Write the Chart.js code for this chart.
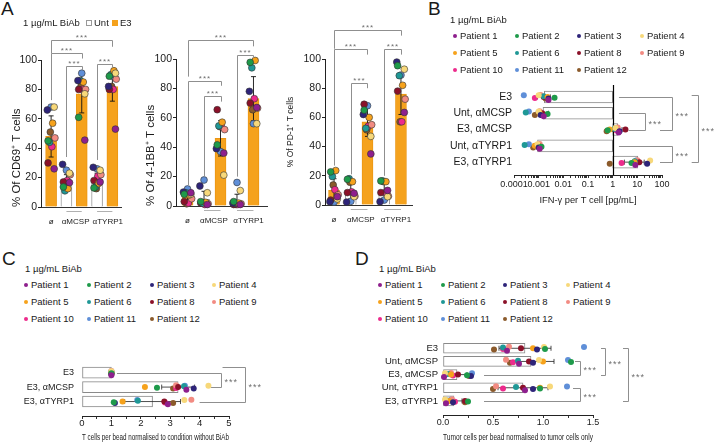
<!DOCTYPE html>
<html>
<head>
<meta charset="utf-8">
<title>BiAb activation panels</title>
<script src="https://cdn.jsdelivr.net/npm/chart.js@4.4.1/dist/chart.umd.min.js"></script>
<style>
  body { margin: 0; background: #fff; }
  #page { position: relative; width: 716px; height: 443px; overflow: hidden; font-family: "Liberation Sans", Arial, sans-serif; color: #1a1a1a; }
  #page canvas { position: absolute; }
  .txt { position: absolute; white-space: nowrap; line-height: 12px; font-size: 9.5px; }
  .letter { position: absolute; font-size: 19px; line-height: 20px; }
  .dot { position: absolute; width: 4px; height: 4px; border-radius: 50%; }
  .box { position: absolute; width: 6px; height: 6px; box-sizing: border-box; }
</style>
</head>
<body>
<div id="page">
  <div class="letter" style="left:1px;top:-1px">A</div>
  <div class="letter" style="left:428px;top:-1px">B</div>
  <div class="letter" style="left:2px;top:249px">C</div>
  <div class="letter" style="left:355px;top:249px">D</div>
  <canvas id="cd69Chart"></canvas>
  <canvas id="bbChart"></canvas>
  <canvas id="pd1Chart"></canvas>
  <canvas id="ifnChart"></canvas>
  <canvas id="tcellChart"></canvas>
  <canvas id="tumorChart"></canvas>
</div>
<script>
const patients = ['Patient 1', 'Patient 2', 'Patient 3', 'Patient 4', 'Patient 5', 'Patient 6',
  'Patient 8', 'Patient 9', 'Patient 10', 'Patient 11', 'Patient 12'];
const patientColors = ['#8e1f8d', '#1e9a4a', '#2e2479', '#f7d87a', '#f6a21c', '#1f9896',
  '#8b1129', '#f28b82', '#ec2b8c', '#5f8fd8', '#8b5a2b'];

// Panel A: five bars (ø E3, Unt αMCSP, E3 αMCSP, Unt αTYRP1, E3 αTYRP1)
const aGroupLabels = ['ø', 'αMCSP', 'αTYRP1'];
const aBarTreat = ['E3', 'Unt', 'E3', 'Unt', 'E3'];

const cd69Mean = [48, 17, 77, 18, 82];
const cd69Sd = [14, 5, 13, 5, 10];
const cd69Phi = [26, 45, 66, 68, 57, 44, 30, 47, 41, 68, 51];
const cd69UntMcsp = [16.6, 13.6, 29, 23, 12.5, 11, 17, 22, 18, 25, 13];
const cd69E3Mcsp = [45.5, 61, 86, 77, 85, 86, 80, 80, 80, 91, 82];
const cd69UntTyrp = [17, 13, 27, 25, 16, 13.6, 18, 22, 21, 26, 12.5];
const cd69E3Tyrp = [53, 89, 82, 91, 92.7, 90, 80, 87, 80, 89, 82];

const bbMean = [6, 4.5, 46, 3, 73];
const bbSd = [3.5, 5.5, 12, 5, 15];
const bbPhi = [9, 8, 9.5, 8, 7.5, 9, 3, 5, 2, 11.6, 1.5];
const bbUntMcsp = [1, 3, 13.6, 9, 2.5, 2, 2, 1.5, 1, 17.7, 2];
const bbE3Mcsp = [36, 41.6, 39, 21, 57, 54.5, 65.5, 52, 54, 37, 54];
const bbUntTyrp = [1, 3, 2, 10.5, 2, 2, 1, 1.5, 1, 16, 1];
const bbE3Tyrp = [67, 97.7, 78, 56, 99, 94, 70, 66.6, 73, 56, 65.5];

const pd1Mean = [10, 10, 57, 10, 76];
const pd1Sd = [8, 6, 10, 6, 14];
const pd1Phi = [5.7, 22.7, 2.3, 4.1, 23.6, 19.5, 3.4, 7, 10.5, 2, 13.7];
const pd1UntMcsp = [8, 17.6, 2, 5.7, 16, 18, 8.5, 6, 9, 2.5, 15.6];
const pd1E3Mcsp = [35, 65, 62, 47, 60, 52.5, 69, 55, 54, 68, 51.5];
const pd1UntTyrp = [10, 16.5, 2.3, 5.7, 16, 16.5, 8.5, 6, 8.5, 3.4, 16];
const pd1E3Tyrp = [63.4, 95.4, 97.9, 93, 82, 88.6, 78, 72.5, 57, 89, 57];

// Panel B: IFN-γ per T cell (log axis, bars grow from 1)
const ifnRows = ['E3', 'Unt, αMCSP', 'E3, αMCSP', 'Unt, αTYRP1', 'E3, αTYRP1'];
const ifnMean = [0.0017, 0.0015, 1.6, 0.0009, 10.5];
const ifnErrLo = [0.0009, 0.0008, 1.0, 0.0006, 3];
const ifnErrHi = [0.003, 0.0025, 2.4, 0.0013, 19];
const ifnE3 = [0.0025, 0.0044, 0.0025, 0.001, 0.0023, 0.0016, 0.0016, 0.0012, 0.0007, 0.00025, 0.0019];
const ifnUntMcsp = [0.0016, 0.0023, 0.0012, 0.001, 0.0011, 0.0003, 0.0014, 0.0011, 0.0012, 0.0004, 0.0007];
const ifnE3Mcsp = [1.75, 0.63, 1.9, 1.3, 0.76, 1.2, 3.3, 1.6, 1.45, 1.3, 0.57];
const ifnUntTyrp = [0.0011, 0.0013, 0.001, 0.0009, 0.0007, 0.00027, 0.001, 0.0011, 0.001, 0.0004, 0.0006];
const ifnE3Tyrp = [8.3, 5.8, 25, 33, 7.6, 7.8, 12, 10, 2.3, 9, 0.76];
const ifnTickLabels = [0.0001, 0.001, 0.01, 0.1, 1, 10, 100];

// Panel C: T cells per bead
const tcellRows = ['E3', 'E3, αMCSP', 'E3, αTYRP1'];
const tcellMean = [1.0, 3.27, 2.4];
const tcellSd = [0, 0.56, 0.95];
const tcellE3 = [1, 1, 1, 1, 1, 1, 1, 1, 1, 1, 1];
const tcellE3Mcsp = [3.55, 2.55, 3.8, 4.3, 2.14, 3.47, 3.27, 3.2, 3.2, 3.5, 3.1];
const tcellE3Tyrp = [2.92, 1.08, 1.12, 3.48, 1.38, 1.9, 2.8, 3.72, 2.82, 1.88, 3.1];

// Panel D: tumor cells per bead
const tumorRows = ['E3', 'Unt, αMCSP', 'E3, αMCSP', 'Unt, αTYRP1', 'E3, αTYRP1'];
const tumorMean = [0.82, 0.88, 0.14, 0.8, 0.11];
const tumorSd = [0.26, 0.23, 0.1, 0.25, 0.08];
const tumorE3 = [0.64, 1.02, 0.94, 1.01, 0.9, 0.6, 0.78, 0.66, 0.6, 1.41, 0.51];
const tumorUntMcsp = [0.76, 1.28, 0.9, 0.96, 1.0, 0.75, 0.86, 0.63, 0.7, 1.25, 0.67];
const tumorE3Mcsp = [0.01, 0.24, 0.28, 0.02, 0.08, 0.05, 0.15, 0.08, 0.1, 0.29, 0.26];
const tumorUntTyrp = [0.82, 0.97, 0.9, 1.07, 0.97, 0.73, 0.8, 0.53, 0.6, 1.24, 0.5];
const tumorE3Tyrp = [0.03, 0.25, 0.1, 0.02, 0.06, 0.03, 0.22, 0.09, 0.12, 0.08, 0.22];

// ---- styling ----
const FONT = '"Liberation Sans", Arial, sans-serif';
const e3Orange = '#f5a21d';
const bracketGray = '#8f8f8f';
const jitA = [0.2, -0.2, -0.25, 0.2, 0.1, -0.1, -0.2, 0.25, 0.05, 0.0, -0.05];
const jitR = [0.18, 0.05, 0.1, -0.1, 0.0, -0.05, 0.0, -0.12, 0.06, -0.1, 0.1];

Chart.defaults.font.family = FONT;
Chart.defaults.color = '#1a1a1a';
Chart.defaults.animation = false;
Chart.defaults.plugins.legend.display = false;
Chart.defaults.plugins.tooltip.enabled = false;

function setBox(canvas, box) {
  const [l, t, w, h] = box;
  canvas.width = w; canvas.height = h;
  canvas.style.left = l + 'px'; canvas.style.top = t + 'px';
  canvas.style.width = w + 'px'; canvas.style.height = h + 'px';
}

function stars(ctx, px, py, align, size) {
  ctx.font = size + 'px ' + FONT;
  ctx.fillStyle = '#6f6f6f';
  ctx.textAlign = align;
  ctx.textBaseline = 'alphabetic';
  ctx.letterSpacing = '1px';
  ctx.fillText('***', px, py + 0.55 * size);
  ctx.letterSpacing = '0px';
}

// vertical bar charts of panel A
function columnChart(id, box, area, xRange, means, sds, barPoints, yTitle, titleSize, titleAlign, brackets) {
  const cv = document.getElementById(id);
  setBox(cv, box);
  const [L, T, W, H] = box;

  const datasets = [{
    type: 'bar',
    data: means.map((v, i) => ({ x: i, y: v })),
    backgroundColor: aBarTreat.map(t => t === 'E3' ? e3Orange : '#ffffff'),
    borderColor: aBarTreat.map(t => t === 'E3' ? '#eb9614' : '#9a9a9a'),
    borderWidth: 1,
    barThickness: 11,
    order: 1
  }];
  patients.forEach((p, k) => {
    datasets.push({
      type: 'scatter',
      label: p,
      data: barPoints.map((vals, i) => ({ x: i + jitA[k], y: vals[k] })),
      backgroundColor: patientColors[k],
      borderColor: '#333',
      borderWidth: 0.6,
      pointRadius: 3.4,
      clip: false,
      order: 0
    });
  });

  const extras = {
    id: 'extras' + id,
    afterDatasetDraw(chart, args) {
      if (args.index !== 0) return;
      const { ctx, scales: { x, y } } = chart;
      ctx.save();
      ctx.strokeStyle = '#111';
      ctx.lineWidth = 0.9;
      means.forEach((m, i) => {
        const px = x.getPixelForValue(i);
        const y1 = y.getPixelForValue(Math.max(0, m - sds[i]));
        const y2 = y.getPixelForValue(m + sds[i]);
        ctx.beginPath();
        ctx.moveTo(px, y1); ctx.lineTo(px, y2);
        ctx.moveTo(px - 2.5, y1); ctx.lineTo(px + 2.5, y1);
        ctx.moveTo(px - 2.5, y2); ctx.lineTo(px + 2.5, y2);
        ctx.stroke();
      });
      ctx.restore();
    },
    afterDraw(chart) {
      const { ctx, scales: { x, y }, chartArea } = chart;
      ctx.save();
      ctx.strokeStyle = bracketGray;
      ctx.lineWidth = 1;
      brackets.forEach(b => {
        const x1 = Math.round(x.getPixelForValue(b.from)) + 0.5;
        const x2 = Math.round(x.getPixelForValue(b.to)) + 0.5;
        const yy = Math.round(y.getPixelForValue(b.y)) + 0.5;
        ctx.beginPath();
        ctx.moveTo(x1, y.getPixelForValue(b.l));
        ctx.lineTo(x1, yy); ctx.lineTo(x2, yy);
        ctx.lineTo(x2, y.getPixelForValue(b.r));
        ctx.stroke();
        stars(ctx, (x1 + x2) / 2, yy - 5, 'center', 8);
      });
      // grey pair lines above the target labels
      ctx.strokeStyle = '#b0b0b0';
      const ly = Math.round(chartArea.bottom + 4) + 0.5;
      [[1, 2], [3, 4]].forEach(([a, b]) => {
        ctx.beginPath();
        ctx.moveTo(x.getPixelForValue(a), ly);
        ctx.lineTo(x.getPixelForValue(b), ly);
        ctx.stroke();
      });
      ctx.restore();
    }
  };

  return new Chart(cv, {
    type: 'bar',
    data: { datasets },
    options: {
      responsive: false,
      devicePixelRatio: 1,
      layout: { padding: { top: area[1] - T, right: L + W - area[2], left: 0, bottom: 0 } },
      scales: {
        x: {
          type: 'linear',
          min: xRange[0], max: xRange[1],
          offset: false,
          afterFit: s => { s.height = T + H - area[3]; },
          afterBuildTicks: s => { s.ticks = [0, 1.6, 3.7].map(v => ({ value: v })); },
          ticks: { callback: (v, i) => aGroupLabels[i], font: { size: 8 }, padding: 10, maxRotation: 0, autoSkip: false },
          grid: { display: false, drawTicks: false, offset: false },
          border: { color: '#333', width: 1 }
        },
        y: {
          min: 0, max: 100,
          ticks: { stepSize: 20, font: { size: 10.5 }, padding: 1 },
          grid: { drawOnChartArea: false, tickLength: 3, color: '#222' },
          border: { color: '#222', width: 1 },
          title: { display: true, text: yTitle, font: { size: titleSize }, align: titleAlign, padding: { top: 9.6, bottom: 0 } },
          afterFit: s => { s.width = area[0] - L; }
        }
      }
    },
    plugins: [extras]
  });
}

// horizontal bar charts of panels B, C, D
function rowChart(id, cfg) {
  const cv = document.getElementById(id);
  setBox(cv, cfg.box);
  const [L, T, W, H] = cfg.box;
  const area = cfg.area;

  const datasets = [{
    type: 'bar',
    indexAxis: 'y',
    data: cfg.means.map((v, i) => ({ x: cfg.floatFrom !== undefined ? [cfg.floatFrom, v] : v, y: i })),
    backgroundColor: '#ffffff',
    borderColor: '#8a8a8a',
    borderWidth: 1,
    borderSkipped: false,
    barThickness: cfg.barThickness,
    order: 1
  }];
  patients.forEach((p, k) => {
    datasets.push({
      type: 'scatter',
      label: p,
      data: cfg.points.map((vals, i) => ({ x: vals[k], y: i + jitR[k] })),
      backgroundColor: patientColors[k],
      borderColor: patientColors[k],
      borderWidth: 0,
      pointRadius: 3,
      clip: false,
      order: 0
    });
  });

  const extras = {
    id: 'extras' + id,
    afterDatasetDraw(chart, args) {
      if (args.index !== 0) return;
      const { ctx, scales: { x, y }, chartArea } = chart;
      ctx.save();
      if (cfg.refLine !== undefined) {
        const rx = Math.round(x.getPixelForValue(cfg.refLine)) + 0.5;
        ctx.strokeStyle = '#000';
        ctx.lineWidth = 1.2;
        ctx.beginPath();
        ctx.moveTo(rx, chartArea.top - 3); ctx.lineTo(rx, chartArea.bottom);
        ctx.stroke();
      }
      ctx.strokeStyle = '#222';
      ctx.lineWidth = 0.8;
      cfg.errLo.forEach((lo, i) => {
        const hi = cfg.errHi[i];
        if (lo === hi) return;
        const py = y.getPixelForValue(i);
        const x1 = x.getPixelForValue(lo), x2 = x.getPixelForValue(hi);
        ctx.beginPath();
        ctx.moveTo(x1, py); ctx.lineTo(x2, py);
        ctx.moveTo(x1, py - 2.5); ctx.lineTo(x1, py + 2.5);
        ctx.moveTo(x2, py - 2.5); ctx.lineTo(x2, py + 2.5);
        ctx.stroke();
      });
      ctx.restore();
    },
    afterDraw(chart) {
      const { ctx, scales: { x, y } } = chart;
      ctx.save();
      ctx.strokeStyle = bracketGray;
      ctx.lineWidth = 1;
      cfg.brackets.forEach(b => {
        const xv = Math.round(x.getPixelForValue(b.x)) + 0.5;
        const y1 = Math.round(y.getPixelForValue(b.from + (b.dTop || 0))) + 0.5;
        const y2 = Math.round(y.getPixelForValue(b.to)) + 0.5;
        ctx.beginPath();
        ctx.moveTo(x.getPixelForValue(b.top), y1);
        ctx.lineTo(xv, y1); ctx.lineTo(xv, y2);
        ctx.lineTo(x.getPixelForValue(b.bot), y2);
        ctx.stroke();
        stars(ctx, xv + 3, (y1 + y2) / 2, 'left', cfg.starSize);
      });
      ctx.restore();
    }
  };

  return new Chart(cv, {
    type: 'bar',
    data: { datasets },
    options: {
      responsive: false,
      devicePixelRatio: 1,
      layout: { padding: { top: area[1] - T, right: L + W - area[2], left: 0, bottom: 0 } },
      scales: {
        x: Object.assign({
          offset: false,
          grid: { drawOnChartArea: false, tickLength: 3, color: '#333', offset: false },
          border: { color: '#222', width: 1 },
          title: { display: true, text: cfg.xTitle, font: { size: 9.3 }, padding: { top: 0, bottom: 0 } },
          afterFit: s => { s.height = T + H - area[3]; }
        }, cfg.xScale),
        y: {
          type: 'linear',
          reverse: true,
          min: cfg.yRange[0], max: cfg.yRange[1],
          offset: false,
          afterBuildTicks: s => { s.ticks = cfg.rows.map((r, i) => ({ value: i })); },
          ticks: { callback: (v, i) => cfg.rows[i], font: { size: cfg.rowFont }, padding: cfg.rowPad, autoSkip: false, color: '#1a1a1a' },
          grid: { display: false, drawTicks: false },
          border: { display: false },
          afterFit: s => { s.width = area[0] - L; }
        }
      }
    },
    plugins: [extras]
  });
}

// legends
function addText(text, x, yc, size) {
  const d = document.createElement('div');
  d.className = 'txt';
  d.textContent = text;
  d.style.left = x + 'px';
  d.style.top = (yc - 6) + 'px';
  if (size) d.style.fontSize = size + 'px';
  document.getElementById('page').appendChild(d);
}
function addShape(cls, x, yc, style) {
  const d = document.createElement('div');
  d.className = cls;
  Object.assign(d.style, style);
  d.style.left = x + 'px';
  d.style.top = yc + 'px';
  document.getElementById('page').appendChild(d);
}
function patientLegend(titleX, titleY, rowYs, colXs) {
  addText('1 µg/mL BiAb', titleX, titleY);
  patients.forEach((p, k) => {
    const r = Math.floor(k / 4), c = k % 4;
    addShape('dot', colXs[c] - 2, rowYs[r] - 2, { background: patientColors[k] });
    addText(p, colXs[c] + 5, rowYs[r]);
  });
}

window.addEventListener('DOMContentLoaded', () => {
  // panel A legend
  addText('1 µg/mL BiAb', 23, 23);
  addShape('box', 86, 20, { background: '#fff', border: '1px solid #999' });
  addText('Unt', 94, 23);
  addShape('box', 112, 20, { background: e3Orange });
  addText('E3', 120, 23);

  patientLegend(450, 20, [36, 53, 70], [455, 517, 579, 642]);
  patientLegend(25, 269, [285, 302, 319], [26, 89, 152, 214]);
  patientLegend(379, 269, [285, 302, 319], [380, 443, 505, 568]);

  columnChart('cd69Chart', [0, 16, 134, 210], [41, 60, 128, 207], [-0.66, 4.58],
    cd69Mean, cd69Sd, [cd69Phi, cd69UntMcsp, cd69E3Mcsp, cd69UntTyrp, cd69E3Tyrp],
    '% Of CD69⁺ T cells', 11.5, 'start',
    [{ from: 0, to: 4, y: 113.6, l: 104.5, r: 109 },
     { from: 0, to: 2, y: 104.5, l: 72.7, r: 101 },
     { from: 1, to: 2, y: 96, l: 34, r: 93 },
     { from: 3, to: 4, y: 97, l: 32, r: 95 }]);

  columnChart('bbChart', [134, 16, 142, 210], [176, 59, 267, 206], [-0.7, 4.82],
    bbMean, bbSd, [bbPhi, bbUntMcsp, bbE3Mcsp, bbUntTyrp, bbE3Tyrp],
    '% Of 4-1BB⁺ T cells', 11.5, 'start',
    [{ from: 0, to: 4, y: 113, l: 88, r: 108.6 },
     { from: 0, to: 2, y: 84.8, l: 14.3, r: 81.8 },
     { from: 1, to: 2, y: 74.5, l: 20, r: 71 },
     { from: 3, to: 4, y: 103, l: 20, r: 100.7 }]);

  columnChart('pd1Chart', [276, 16, 150, 210], [325, 59, 412, 205], [-0.54, 4.66],
    pd1Mean, pd1Sd, [pd1Phi, pd1UntMcsp, pd1E3Mcsp, pd1UntTyrp, pd1E3Tyrp],
    '% Of PD-1⁺ T cells', 8.5, 'center',
    [{ from: 0, to: 4, y: 119.7, l: 107, r: 116 },
     { from: 0, to: 2, y: 107, l: 27, r: 103 },
     { from: 1, to: 2, y: 83.5, l: 21, r: 80 },
     { from: 3, to: 4, y: 107, l: 20, r: 103 }]);

  rowChart('ifnChart', {
    box: [440, 78, 276, 128], area: [514, 88, 662, 175], yRange: [-0.55, 4.79],
    rows: ifnRows, rowFont: 10.5, rowPad: 2,
    means: ifnMean, floatFrom: 1, errLo: ifnErrLo, errHi: ifnErrHi,
    points: [ifnE3, ifnUntMcsp, ifnE3Mcsp, ifnUntTyrp, ifnE3Tyrp],
    barThickness: 12, refLine: 1, starSize: 9,
    xTitle: 'IFN-γ per T cell [pg/mL]',
    xScale: {
      type: 'logarithmic', min: 0.0001, max: 100,
      afterBuildTicks: s => {
        const t = [];
        ifnTickLabels.forEach((d, i) => {
          t.push({ value: d });
          if (i < ifnTickLabels.length - 1) for (let m = 2; m < 10; m++) t.push({ value: d * m });
        });
        s.ticks = t;
      },
      ticks: {
        autoSkip: false, maxRotation: 0, minRotation: 0, padding: 1, font: { size: 9 },
        callback: v => {
          const hit = ifnTickLabels.find(d => Math.abs(d - v) / d < 1e-6);
          return hit === undefined ? '' : String(hit);
        }
      }
    },
    brackets: [
      { from: 1, to: 2, x: 21, top: 1.8, bot: 4.4 },
      { from: 0, to: 2, x: 250, top: 1.8, bot: 83 },
      { from: 3, to: 4, x: 250, top: 1.8, bot: 83 },
      { from: 0, to: 4, x: 2750, top: 1600, bot: 1600, dTop: -0.12 }
    ]
  });

  rowChart('tcellChart', {
    box: [0, 352, 290, 91], area: [82, 360, 229, 416], yRange: [-0.5, 3.0],
    rows: tcellRows, rowFont: 9, rowPad: 8,
    means: tcellMean,
    errLo: tcellMean.map((m, i) => m - tcellSd[i]), errHi: tcellMean.map((m, i) => m + tcellSd[i]),
    points: [tcellE3, tcellE3Mcsp, tcellE3Tyrp],
    barThickness: 11, starSize: 9,
    xTitle: 'T cells per bead normalised to condition without BiAb',
    xScale: {
      type: 'linear', min: 0, max: 5,
      ticks: { stepSize: 0.5, padding: -1, font: { size: 9.5 }, autoSkip: false, maxRotation: 0,
        callback: v => Number.isInteger(v) ? String(v) : '' }
    },
    brackets: [
      { from: 0, to: 1, x: 4.73, top: 1.19, bot: 4.39 },
      { from: 0, to: 2, x: 5.54, top: 4.78, bot: 4.0, dTop: -0.37 }
    ]
  });

  rowChart('tumorChart', {
    box: [360, 331, 356, 112], area: [443, 339, 593, 415], yRange: [-0.5, 5.07],
    rows: tumorRows, rowFont: 9.5, rowPad: 5,
    means: tumorMean,
    errLo: tumorMean.map((m, i) => m - tumorSd[i]), errHi: tumorMean.map((m, i) => m + tumorSd[i]),
    points: [tumorE3, tumorUntMcsp, tumorE3Mcsp, tumorUntTyrp, tumorE3Tyrp],
    barThickness: 10, starSize: 9,
    xTitle: 'Tumor cells per bead normalised to tumor cells only',
    xScale: {
      type: 'linear', min: 0, max: 1.5,
      ticks: { stepSize: 0.25, padding: -1, font: { size: 9 }, autoSkip: false, maxRotation: 0,
        callback: v => (Math.abs(v * 2 - Math.round(v * 2)) < 1e-6) ? v.toFixed(1) : '' }
    },
    brackets: [
      { from: 1, to: 2, x: 1.37, top: 1.32, bot: 0.41 },
      { from: 0, to: 2, x: 1.62, top: 1.58, bot: 1.58 },
      { from: 3, to: 4, x: 1.37, top: 1.3, bot: 0.41 },
      { from: 0, to: 4, x: 1.85, top: 1.8, bot: 1.8 }
    ]
  });
});
</script>
</body>
</html>
